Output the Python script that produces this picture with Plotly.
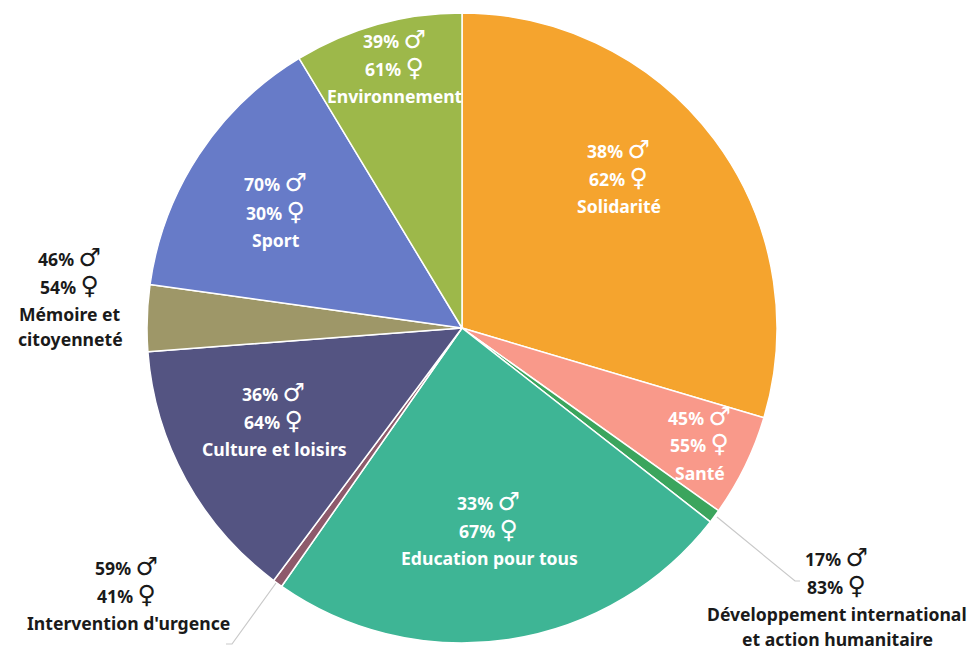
import plotly.graph_objects as go

W, H = 971, 650
categories = ["Solidarité", "Santé", "Développement international et action humanitaire",
              "Education pour tous", "Intervention d'urgence", "Culture et loisirs",
              "Mémoire et citoyenneté", "Sport", "Environnement"]
shares = [29.6, 5.25, 0.7, 24.15, 0.5, 13.6, 3.4, 14.15, 8.65]
men_pct = [38, 45, 17, 33, 59, 36, 46, 70, 39]
women_pct = [62, 55, 83, 67, 41, 64, 54, 30, 61]
slice_colors = ["#F5A42E", "#F9998A", "#3BA55D", "#3EB595", "#8E5A6B",
                "#545482", "#9E9768", "#677BC8", "#9DB84A"]

# label layout: centre x, first-line y, name lines, colour, in reference pixels
label_x = [619, 700, 837, 490, 128, 274, 70, 276, 395]
label_y = [151, 418, 559, 503, 568, 394, 259, 185, 41]
name_lines = [["Solidarité"], ["Santé"], ["Développement international", "et action humanitaire"],
              ["Education pour tous"], ["Intervention d'urgence"], ["Culture et loisirs"],
              ["Mémoire et", "citoyenneté"], ["Sport"], ["Environnement"]]
text_colors = ["white", "white", "#1a1a1a", "white", "#1a1a1a", "white", "#1a1a1a", "white", "white"]
line_gap = 28

FONT = "Noto Sans"
SIZE = 17.6
SYM = '<span style="font-size:25px;font-family:\'DejaVu Sans\'">{}</span>'

fig = go.Figure(go.Pie(
    labels=categories, values=shares, sort=False, direction="clockwise", rotation=0,
    marker=dict(colors=slice_colors, line=dict(color="white", width=1.5)),
    textinfo="none", hoverinfo="label+percent", showlegend=False,
    domain=dict(x=[147 / W, 777 / W], y=[1 - 643 / H, 1 - 13 / H]),
))

def put(x, y, text, color):
    fig.add_annotation(x=x / W, y=1 - y / H, xref="paper", yref="paper", text=text,
                       showarrow=False, xanchor="center", yanchor="middle", borderpad=0,
                       font=dict(family=FONT, size=SIZE, color=color))

for i in range(len(categories)):
    c = text_colors[i]
    x, y = label_x[i], label_y[i]
    put(x - 1, y - 2, f"<b>{men_pct[i]}% {SYM.format('♂')}</b>", c)
    put(x - 1, y + line_gap - 2, f"<b>{women_pct[i]}% {SYM.format('♀')}</b>", c)
    for j, line in enumerate(name_lines[i]):
        put(x, y + 2 * line_gap - 1 + j * 25, f"<b>{line}</b>", c)

# leader lines
for pts in ([(717, 517), (795, 581), (800, 581)], [(276, 583), (232, 644), (226, 644)]):
    path = "M " + " L ".join(f"{px / W} {1 - py / H}" for px, py in pts)
    fig.add_shape(type="path", path=path, xref="paper", yref="paper",
                  line=dict(color="#c9c9c9", width=1.2))

fig.update_layout(width=W, height=H, margin=dict(l=0, r=0, t=0, b=0),
                  paper_bgcolor="white", plot_bgcolor="white")
fig.write_html("out.html", config=dict(displayModeBar=False),
               post_script="document.body.style.margin='0';document.body.style.overflow='hidden';")
